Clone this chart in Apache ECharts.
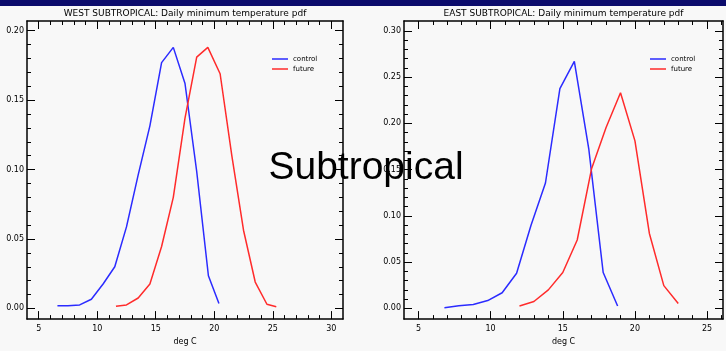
<!DOCTYPE html>
<html>
<head>
<meta charset="utf-8">
<script src="https://cdn.jsdelivr.net/npm/echarts@6/dist/echarts.min.js"></script>
<style>
  html, body { margin: 0; padding: 0; background: #f8f8f8; }
  #chart { width: 726px; height: 351px; }
</style>
</head>
<body>
<div id="chart"></div>
<script>
// WEST SUBTROPICAL
const westControlX = [6.6, 7.5, 8.5, 9.5, 10.5, 11.5, 12.5, 13.5, 14.5, 15.5, 16.5, 17.5, 18.5, 19.5, 20.4];
const westControlY = [0.002, 0.002, 0.0025, 0.0066, 0.0176, 0.030, 0.0587, 0.0962, 0.1315, 0.177, 0.188, 0.162, 0.0986, 0.0235, 0.0035];
const westFutureX = [11.6, 12.5, 13.5, 14.5, 15.5, 16.5, 17.5, 18.5, 19.45, 20.5, 21.5, 22.5, 23.5, 24.5, 25.3];
const westFutureY = [0.0016, 0.0025, 0.0075, 0.0176, 0.0446, 0.080, 0.137, 0.181, 0.188, 0.169, 0.110, 0.0563, 0.019, 0.003, 0.0012];

// EAST SUBTROPICAL
const eastControlX = [6.8, 7.8, 8.8, 9.8, 10.8, 11.8, 12.8, 13.8, 14.8, 15.8, 16.8, 17.8, 18.8];
const eastControlY = [0.0007, 0.0028, 0.0042, 0.0084, 0.0169, 0.038, 0.0898, 0.1355, 0.2376, 0.267, 0.1725, 0.0387, 0.0025];
const eastFutureX = [12, 13, 14, 15, 16, 17, 18, 19, 20, 21, 22, 23];
const eastFutureY = [0.0025, 0.0074, 0.020, 0.0387, 0.0739, 0.1513, 0.1954, 0.233, 0.181, 0.081, 0.0246, 0.0053];

// tick labels
const westXTicks = [5, 10, 15, 20, 25, 30];
const westYTicks = [0, 0.05, 0.10, 0.15, 0.20];
const eastXTicks = [5, 10, 15, 20, 25];
const eastYTicks = [0, 0.05, 0.10, 0.15, 0.20, 0.25, 0.30];

const titles = ['WEST SUBTROPICAL: Daily minimum temperature pdf', 'EAST SUBTROPICAL: Daily minimum temperature pdf'];
const seriesNames = ['control', 'future'];

const FONT = 'DejaVu Sans';

function steps(a, b, s) {
  const out = [];
  for (let i = 0; a + i * s <= b + 1e-9; i++) out.push(+(a + i * s).toFixed(4));
  return out;
}

function zip(xs, ys) {
  return xs.map((x, i) => [x, ys[i]]);
}

// one side of the box: a line with small ticks, plus an overlay with big ticks (+ labels)
function side(gridIndex, position, min, max, minor, major, labelled, extra) {
  const base = {
    type: 'value', gridIndex, position, min, max,
    splitLine: { show: false },
    axisPointer: { show: false }
  };
  const minorAxis = Object.assign({}, base, {
    axisLine: { show: true, onZero: false, lineStyle: { color: '#000', width: 1.5 } },
    axisTick: { show: true, inside: true, length: 4, customValues: minor, lineStyle: { color: '#000', width: 1 } },
    axisLabel: { show: false }
  });
  const majorAxis = Object.assign({}, base, {
    axisLine: { show: false, onZero: false },
    axisTick: { show: true, inside: true, length: 8, customValues: major, lineStyle: { color: '#000', width: 1 } },
    axisLabel: labelled
      ? Object.assign({ show: true, customValues: major, fontSize: 8, fontFamily: FONT, color: '#000' }, extra.label)
      : { show: false }
  }, labelled ? extra.axis : {});
  return [minorAxis, majorAxis];
}

const panels = [
  { grid: { left: 27, top: 21, width: 316, height: 305 }, xMin: 4, xMax: 31, yMin: -0.0077, yMax: 0.207,
    xMinor: steps(5, 30, 1), xMajor: westXTicks, yMinor: steps(0, 0.2, 0.01), yMajor: westYTicks,
    ctrl: zip(westControlX, westControlY), fut: zip(westFutureX, westFutureY) },
  { grid: { left: 404, top: 21, width: 319, height: 305 }, xMin: 4, xMax: 26.1, yMin: -0.0116, yMax: 0.3106,
    xMinor: steps(5, 26, 1), xMajor: eastXTicks, yMinor: steps(0, 0.3, 0.01), yMajor: eastYTicks,
    ctrl: zip(eastControlX, eastControlY), fut: zip(eastFutureX, eastFutureY) }
];

const xAxes = [], yAxes = [], series = [], grids = [], titleOpts = [], legends = [];
panels.forEach((p, g) => {
  grids.push(p.grid);
  const xIdx = xAxes.length, yIdx = yAxes.length;
  xAxes.push(...side(g, 'bottom', p.xMin, p.xMax, p.xMinor, p.xMajor, true, {
    label: { margin: 6, formatter: v => String(v) },
    axis: { name: 'deg C', nameLocation: 'middle', nameGap: 15, nameTextStyle: { fontSize: 8, fontFamily: FONT, color: '#000' } }
  }));
  xAxes.push(...side(g, 'top', p.xMin, p.xMax, p.xMinor, p.xMajor, false));
  yAxes.push(...side(g, 'left', p.yMin, p.yMax, p.yMinor, p.yMajor, true, {
    label: { margin: 3, formatter: v => v.toFixed(2) }, axis: {}
  }));
  yAxes.push(...side(g, 'right', p.yMin, p.yMax, p.yMinor, p.yMajor, false));

  series.push({
    name: seriesNames[0], type: 'line', xAxisIndex: xIdx, yAxisIndex: yIdx,
    data: p.ctrl, showSymbol: false, symbol: 'none', silent: true,
    lineStyle: { color: '#2b2bff', width: 1.5 }, itemStyle: { color: '#2b2bff' }
  });
  series.push({
    name: seriesNames[1], type: 'line', xAxisIndex: xIdx, yAxisIndex: yIdx,
    data: p.fut, showSymbol: false, symbol: 'none', silent: true,
    lineStyle: { color: '#ff2b2b', width: 1.5 }, itemStyle: { color: '#ff2b2b' }
  });

  titleOpts.push({
    text: titles[g], left: p.grid.left + p.grid.width / 2, top: 9, textAlign: 'center', padding: 0,
    textStyle: { fontSize: 9, fontWeight: 'normal', fontFamily: FONT, color: '#000' }
  });

  legends.push({
    data: seriesNames, left: g === 0 ? 272 : 650, top: 55, orient: 'vertical',
    icon: 'rect', itemWidth: 16, itemHeight: 1.5, itemGap: 2, padding: 0, selectedMode: false,
    textStyle: { fontSize: 7, lineHeight: 8, fontFamily: FONT, color: '#000' }
  });
});

const chart = echarts.init(document.getElementById('chart'));
chart.setOption({
  backgroundColor: '#f8f8f8',
  animation: false,
  title: titleOpts,
  legend: legends,
  grid: grids,
  xAxis: xAxes,
  yAxis: yAxes,
  series: series,
  graphic: [
    { type: 'rect', left: 0, top: 0, shape: { width: 726, height: 6 }, style: { fill: '#0c0c6c' }, z: 10 },
    { type: 'text', x: 366, y: 168, z: 100,
      style: { text: 'Subtropical', font: '39px "Liberation Sans"', fill: '#000', align: 'center', verticalAlign: 'middle' } }
  ]
});
</script>
</body>
</html>
